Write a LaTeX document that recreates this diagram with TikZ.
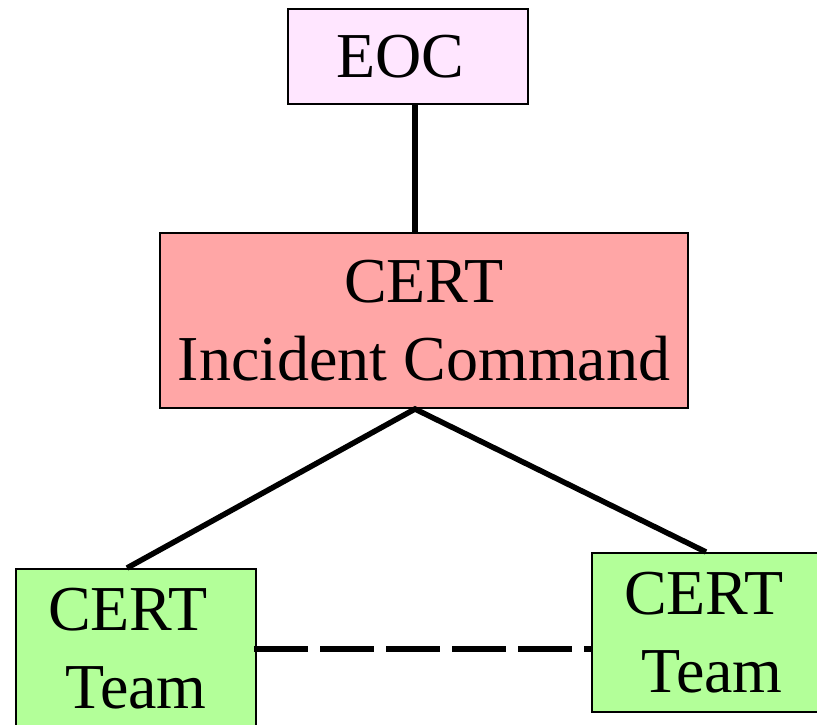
\documentclass[tikz,border=0pt]{standalone}
\usepackage{fontspec}
\setmainfont{Liberation Serif}
\definecolor{eocfill}{HTML}{FFE6FF}
\definecolor{icfill}{HTML}{FFA6A6}
\definecolor{teamfill}{HTML}{B3FF99}
\begin{document}
\begin{tikzpicture}[x=1pt,y=-1pt,
  box/.style={draw=black, line width=2pt, inner sep=0pt, align=center,
    font=\fontsize{64}{78}\selectfont},
  conn/.style={line width=5.5pt, line join=miter},
  dashconn/.style={line width=6pt, dash pattern=on 54pt off 12pt}]
\useasboundingbox (0,0) rectangle (817,725);
\node[box, fill=eocfill, minimum width=240pt, minimum height=95pt] (eoc) at (408,56.5) {EOC\hspace*{0.25em}};
\node[box, fill=icfill, minimum width=528pt, minimum height=175pt] (ic) at (424,320.5) {CERT\\Incident Command};
\node[box, fill=teamfill, minimum width=240pt, minimum height=159pt] (lt) at (136,648.5) {CERT\hspace*{0.25em}\\Team};
\node[box, fill=teamfill, minimum width=240pt, minimum height=159pt] (rt) at (712,632.5) {CERT\hspace*{0.25em}\\Team};
\draw[conn] ([xshift=7pt]eoc.south) -- ([xshift=-9pt]ic.north);
\draw[conn] ([xshift=-9pt]lt.north) -- ([xshift=-9pt]ic.south) -- ([xshift=-6pt]rt.north);
\draw[dashconn] ([xshift=-3pt]lt.east) -- (lt.east -| rt.west);
\end{tikzpicture}
\end{document}
